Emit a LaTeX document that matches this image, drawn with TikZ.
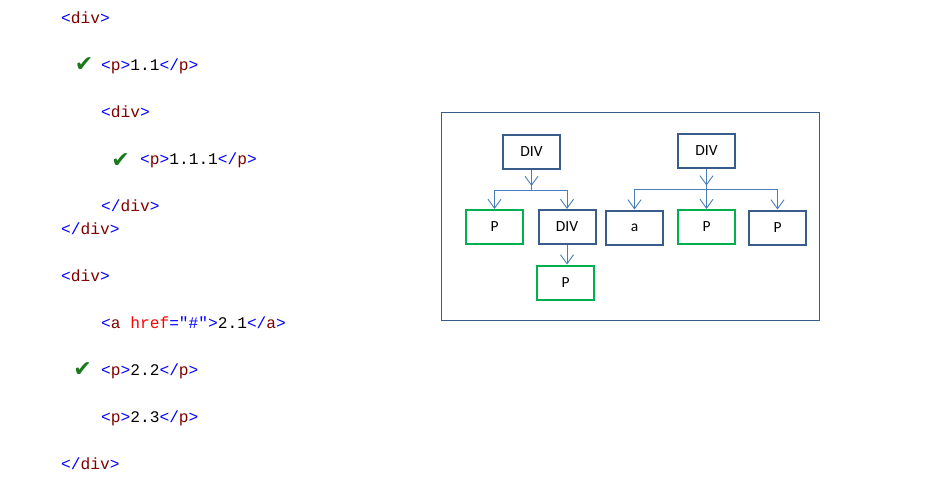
\documentclass[tikz,border=0pt]{standalone}
\usepackage{fontspec}
\setmainfont{Carlito}
\newfontfamily\codefont{Liberation Mono}
\newfontfamily\symfont{DejaVu Sans}
\usetikzlibrary{arrows.meta,positioning}
\definecolor{tagblue}{HTML}{0000FF}
\definecolor{tagname}{HTML}{800000}
\definecolor{attrred}{HTML}{FF0000}
\definecolor{tickgreen}{HTML}{1A7A1A}
\definecolor{boxblue}{HTML}{385D8A}
\definecolor{boxgreen}{HTML}{00B050}
\definecolor{linkblue}{HTML}{4A7EBB}
\newcommand{\otag}[1]{\textcolor{tagblue}{<}\textcolor{tagname}{#1}\textcolor{tagblue}{>}}
\newcommand{\ctag}[1]{\textcolor{tagblue}{</}\textcolor{tagname}{#1}\textcolor{tagblue}{>}}
\tikzset{
  code/.style={anchor=base west, inner sep=0pt, font=\codefont\fontsize{16.2}{18}\selectfont},
  tick/.style={inner sep=0pt, text=tickgreen, font=\symfont\bfseries\fontsize{22}{24}\selectfont},
  elem/.style={draw=boxblue, line width=2pt, minimum width=57pt, minimum height=34pt,
               inner sep=0pt, font=\fontsize{15.5}{17}\selectfont},
  hit/.style={elem, draw=boxgreen},
  link/.style={draw=linkblue, line width=0.9pt},
  flow/.style={link, -{Straight Barb[length=9pt, width=13pt]}},
  frame/.style={draw=boxblue, line width=1pt, minimum width=378pt, minimum height=208pt}
}
\begin{document}
\begin{tikzpicture}[x=1pt, y=-1pt]
  \useasboundingbox (0,0) rectangle (950,488);

  %% markup
  \node[code] (c1)  at (61,23)    {\otag{div}};
  \node[code] (c2)  at (101,70)   {\otag{p}1.1\ctag{p}};
  \node[code] (c3)  at (101,117)  {\otag{div}};
  \node[code] (c4)  at (140,164)  {\otag{p}1.1.1\ctag{p}};
  \node[code] (c5)  at (101,211)  {\ctag{div}};
  \node[code] (c6)  at (61,234.5) {\ctag{div}};
  \node[code] (c7)  at (61,281.5) {\otag{div}};
  \node[code] (c8)  at (101,328.5) {\textcolor{tagblue}{<}\textcolor{tagname}{a}
        \textcolor{attrred}{href}\textcolor{tagblue}{="\#">}2.1\ctag{a}};
  \node[code] (c9)  at (101,375.5) {\otag{p}2.2\ctag{p}};
  \node[code] (c10) at (101,422.5) {\otag{p}2.3\ctag{p}};
  \node[code] (c11) at (61,469.5) {\ctag{div}};

  \node[tick] (t1) at (84,65)      {✔};
  \node[tick] (t2) at (120.5,160.5) {✔};
  \node[tick] (t3) at (82.5,369.5) {✔};

  %% DOM tree
  \node[frame] (dom) at (630,216) {};

  \node[elem] (div1) at (531.5,151.5) {DIV};
  \node[hit]  (p1)   at (494.5,227)   {P};
  \node[elem] (div2) at (567,227)     {DIV};
  \node[hit]  (p2)   at (565.5,282.5) {P};

  \node[elem] (div3) at (706.5,150.5) {DIV};
  \node[elem] (a1)   at (634.5,227.5) {a};
  \node[hit]  (p3)   at (706.5,227)   {P};
  \node[elem] (p4)   at (777.5,227.5) {P};

  \coordinate (j1) at (531.5,190);
  \coordinate (j2) at (706.5,189.5);

  \draw[link] (div1.south) -- (j1);
  \draw[flow] (div1.south) -- ([yshift=4pt]j1);
  \draw[flow] (j1) -| (p1);
  \draw[flow] (j1) -| (div2);
  \draw[flow] (div2.south) -- (div2.south |- p2.north);

  \draw[link] (div3.south) -- (j2);
  \draw[flow] (div3.south) -- ([yshift=4pt]j2);
  \draw[flow] (j2) -| (a1);
  \draw[flow] (j2) -- (p3);
  \draw[flow] (j2) -| (p4);
\end{tikzpicture}
\end{document}
